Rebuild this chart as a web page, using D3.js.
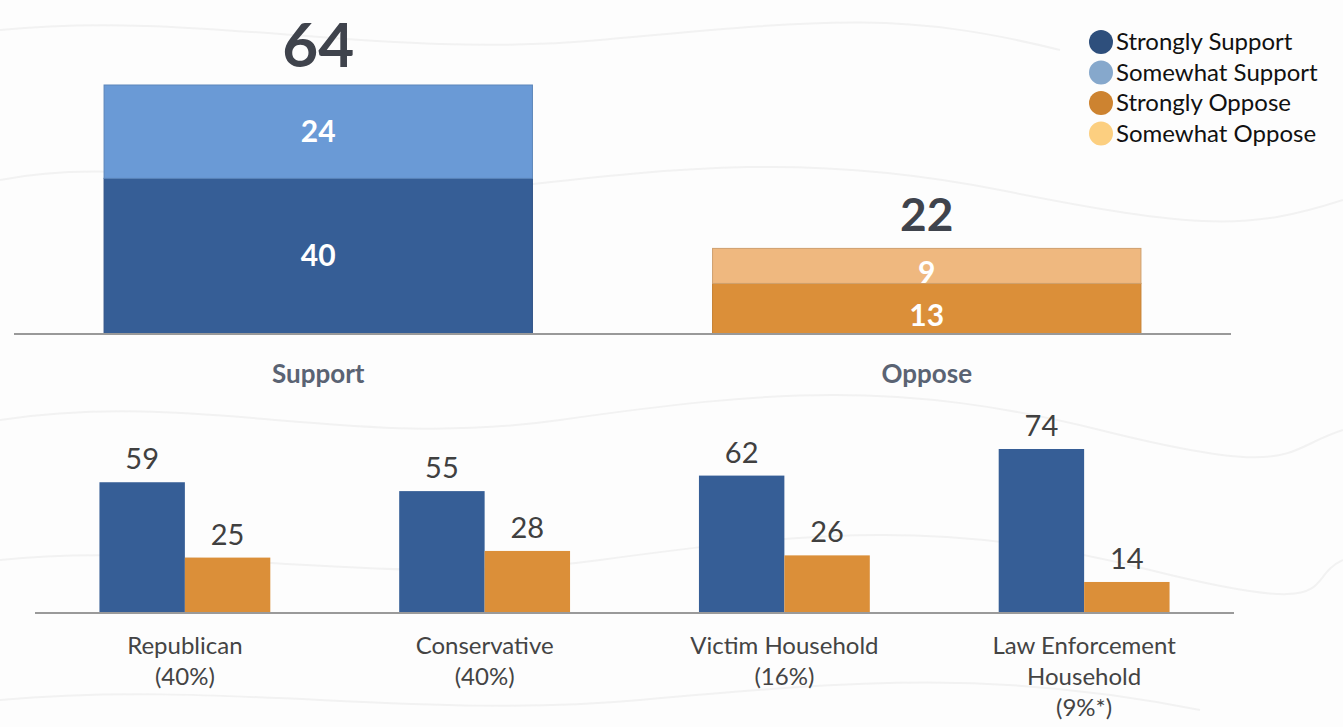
<!DOCTYPE html>
<html>
<head>
<meta charset="utf-8">
<script src="https://cdn.jsdelivr.net/npm/d3@7"></script>
<style>
  html, body { margin: 0; padding: 0; background: #fdfdfd; }
  svg { display: block; font-family: Lato, "Open Sans", sans-serif; }
</style>
</head>
<body>
<svg id="chart" width="1343" height="727"></svg>
<script>
// ---- Data ----
const topCategories = ["Support", "Oppose"];
const strongValues = [40, 13];
const somewhatValues = [24, 9];
const totals = [64, 22];

const legendLabels = ["Strongly Support", "Somewhat Support", "Strongly Oppose", "Somewhat Oppose"];

const groupLabels = [["Republican", "(40%)"], ["Conservative", "(40%)"], ["Victim Household", "(16%)"], ["Law Enforcement", "Household", "(9%*)"]];
const groupSupport = [59, 55, 62, 74];
const groupOppose = [25, 28, 26, 14];
const groupSeries = ["Support", "Oppose"];

// ---- Styles ----
const colStrongSup = "#365e96", colSomeSup = "#6a9ad6";
const colStrongOpp = "#db8f39", colSomeOpp = "#efb87f";
const legendColors = ["#2e4f7c", "#86a8cc", "#cd8330", "#fccf80"];

const svg = d3.select("#chart");

// faint background contours
const bg = svg.append("g").attr("fill", "none").attr("stroke", "#f2f2f2").attr("stroke-width", 2);
const bgPaths = [
  "M0,180 C150,150 300,210 480,190 S800,150 1000,190 S1250,230 1343,200",
  "M0,420 C200,390 350,450 560,420 S900,380 1100,430 S1280,450 1343,430",
  "M0,560 C180,540 380,590 600,560 S950,520 1150,570 S1300,580 1343,560",
  "M0,700 C220,680 420,720 640,700 S1000,670 1200,710",
  "M0,30 C200,10 380,60 600,40 S900,10 1060,50"
];
bg.selectAll("path").data(bgPaths).join("path").attr("d", d => d);

// ---- Top stacked chart ----
const topBase = 334;
const xTop = d3.scaleBand().domain(topCategories).range([14, 1231]).paddingInner(0.296).paddingOuter(0.148);
const yTop = d3.scaleLinear().domain([0, 64]).range([topBase, 85]);

const topG = svg.append("g");
const strongCols = [colStrongSup, colStrongOpp];
const someCols = [colSomeSup, colSomeOpp];

topCategories.forEach((c, i) => {
  const x = xTop(c), w = xTop.bandwidth();
  const s = strongValues[i], m = somewhatValues[i];
  topG.append("rect").attr("x", x).attr("width", w)
    .attr("y", yTop(s)).attr("height", yTop(0) - yTop(s))
    .attr("fill", strongCols[i]).attr("stroke", d3.color(strongCols[i]).darker(0.3)).attr("stroke-width", 1);
  topG.append("rect").attr("x", x).attr("width", w)
    .attr("y", yTop(s + m)).attr("height", yTop(s) - yTop(s + m))
    .attr("fill", someCols[i]).attr("stroke", d3.color(someCols[i]).darker(0.4)).attr("stroke-width", 1);
  const cx = x + w / 2;
  topG.append("text").attr("x", cx).attr("y", (yTop(0) + yTop(s)) / 2 + (i === 0 ? 10 : 17))
    .attr("text-anchor", "middle").attr("fill", "#fff").attr("font-weight", 700).attr("font-size", 30).text(s);
  topG.append("text").attr("x", cx).attr("y", (yTop(s) + yTop(s + m)) / 2 + (i === 0 ? 10 : 17))
    .attr("text-anchor", "middle").attr("fill", "#fff").attr("font-weight", 700).attr("font-size", 30).text(m);
  topG.append("text").attr("x", cx).attr("y", yTop(totals[i]) - (i === 0 ? 18 : 17))
    .attr("text-anchor", "middle").attr("fill", "#3f434c").attr("font-weight", 700)
    .attr("font-size", i === 0 ? 62 : 46).text(totals[i]);
  topG.append("text").attr("x", cx).attr("y", 383)
    .attr("text-anchor", "middle").attr("fill", "#5a6373").attr("font-weight", 700).attr("font-size", 26).text(c);
});
topG.append("line").attr("x1", 14).attr("x2", 1231).attr("y1", topBase).attr("y2", topBase)
  .attr("stroke", "#999").attr("stroke-width", 2);

// ---- Legend ----
const leg = svg.append("g");
legendLabels.forEach((l, i) => {
  const y = 42 + i * 30.5;
  leg.append("circle").attr("cx", 1101).attr("cy", y).attr("r", 12).attr("fill", legendColors[i]);
  leg.append("text").attr("x", 1116).attr("y", y + 8).attr("font-size", 24).attr("fill", "#111").text(l);
});

// ---- Bottom grouped chart ----
const botBase = 613;
const x0 = d3.scaleBand().domain(groupLabels.map((d, i) => i)).range([35, 1234]).paddingInner(0.43).paddingOuter(0.215);
const x1 = d3.scaleBand().domain(groupSeries).range([0, x0.bandwidth()]);
const yBot = d3.scaleLinear().domain([0, 74]).range([botBase, 449]);
const botCols = { Support: colStrongSup, Oppose: colStrongOpp };

const botG = svg.append("g");
groupLabels.forEach((lab, i) => {
  const vals = { Support: groupSupport[i], Oppose: groupOppose[i] };
  groupSeries.forEach(s => {
    const x = x0(i) + x1(s), v = vals[s];
    botG.append("rect").attr("x", x).attr("width", x1.bandwidth())
      .attr("y", yBot(v)).attr("height", yBot(0) - yBot(v)).attr("fill", botCols[s]);
    botG.append("text").attr("x", x + x1.bandwidth() / 2).attr("y", yBot(v) - 13)
      .attr("text-anchor", "middle").attr("font-size", 29).attr("fill", "#404040").text(v);
  });
  const cx = x0(i) + x0.bandwidth() / 2;
  lab.forEach((t, j) => {
    botG.append("text").attr("x", cx).attr("y", 654 + j * 31)
      .attr("text-anchor", "middle").attr("font-size", 24).attr("fill", "#444").text(t);
  });
});
botG.append("line").attr("x1", 35).attr("x2", 1234).attr("y1", botBase).attr("y2", botBase)
  .attr("stroke", "#9a9a9a").attr("stroke-width", 2);
</script>
</body>
</html>
